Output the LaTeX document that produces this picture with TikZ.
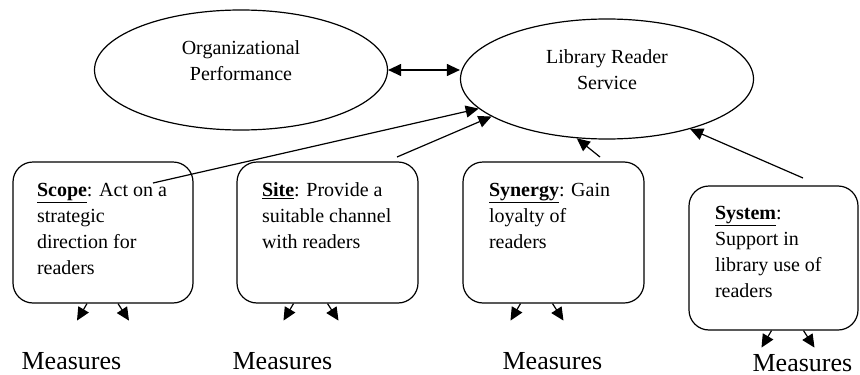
\documentclass[tikz,border=0pt]{standalone}
\usepackage{fontspec}
\setmainfont{Liberation Serif}
\usetikzlibrary{arrows.meta,shapes,calc}

\begin{document}
\begin{tikzpicture}[x=1pt, y=-1pt, line width=1.2pt]
  \tikzstyle{goal}=[draw, ellipse, minimum width=293pt, minimum height=120pt, inner sep=0pt]
  \tikzstyle{goal_text}=[align=center, inner sep=0pt, font=\fontsize{20}{26}\selectfont]
  \tikzstyle{card}=[draw, rounded corners=20pt, inner sep=0pt]
  \tikzstyle{card_text}=[align=left, anchor=north west, inner sep=0pt, font=\fontsize{20}{26}\selectfont]
  \tikzstyle{measure}=[anchor=base west, inner sep=0pt, font=\fontsize{26}{30}\selectfont]
  \tikzstyle{dir_edge} = [draw, -{Triangle[length=13pt,width=12pt]}]
  \tikzstyle{und_edge} = [draw, {Triangle[length=13pt,width=12pt]}-{Triangle[length=13pt,width=12pt]}]

  \useasboundingbox (0,0) rectangle (860,375);

    % the two goals
    \node[goal] (org) at (241,70) {};
    \node[goal] (lib) at (607,79) {};
    \node[goal_text] (orgtext) at (241,61) {Organizational\\Performance};
    \node[goal_text] (libtext) at (607,70) {Library Reader\\Service};

    % Draw the cards
    \foreach \name/\x/\y/\w/\h in
        {
          scope/103/232.5/180/141,
          site/327.5/232.5/181/141,
          synergy/553.5/232.5/181/141,
          system/773.5/258/169/144%
        }
        \node[card, minimum width=\w, minimum height=\h] (\name) at (\x,\y) {};

      \node[card_text] (scopetext) at ([shift={(24,21)}]scope.north west)
        {\underline{\textbf{Scope}}: Act on a\\strategic\\direction for\\readers};
      \node[card_text] (sitetext) at ([shift={(25,21)}]site.north west)
        {\underline{\textbf{Site}}: Provide a\\suitable channel\\with readers};
      \node[card_text] (synergytext) at ([shift={(26,21)}]synergy.north west)
        {\underline{\textbf{Synergy}}: Gain\\loyalty of\\readers};
      \node[card_text] (systemtext) at ([shift={(26,20)}]system.north west)
        {\underline{\textbf{System}}:\\Support in\\library use of\\readers};

      \node[measure] (scopem) at (21,369) {Measures};
      \node[measure] (sitem) at (232,369) {Measures};
      \node[measure] (synergym) at (502,369) {Measures};
      \node[measure] (systemm) at (752,371) {Measures};

    % free ends of the connectors
    \coordinate (scopeout) at (153,183);
    \coordinate (siteout) at (397,157);
    \coordinate (synergyout) at (600,157);
    \coordinate (systemout) at (803,178);

    % Connect cards with the service
    \foreach \source/ \dest in
      {
        scopeout/lib.193,
        siteout/lib.198,
        synergyout/lib.243,
        systemout/lib.329%
      }
      \path[dir_edge] (\source) -- (\dest);

    \path[und_edge] (org.east) -- (org.east -| lib.west);

    % short arrows to the measures
    \foreach \name/\a/\b in {scope/-16/15, site/-34/0, synergy/-33/-1, system/-2/30}
      {
        \path[dir_edge] ([xshift=\a]\name.south) -- ++(-10,17);
        \path[dir_edge] ([xshift=\b]\name.south) -- ++(11,17);
      }

\end{tikzpicture}
\end{document}
